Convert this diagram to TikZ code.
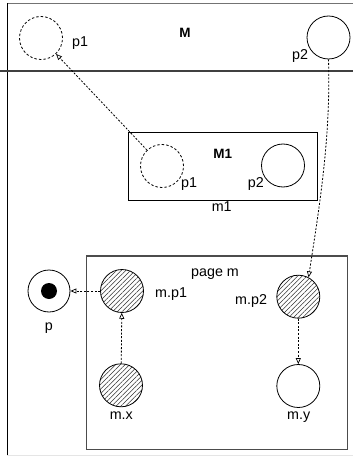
\documentclass[tikz,border=0pt]{standalone}
\usepackage{fontspec}
\setmainfont{Liberation Sans}
\usetikzlibrary{arrows.meta,patterns.meta}
\begin{document}
\begin{tikzpicture}[x=1pt,y=-1pt,
  every node/.style={font=\fontsize{14.3}{16}\selectfont},
  port/.style={circle,draw,line width=0.8pt,inner sep=0pt,minimum size=43pt},
  ghost/.style={port,dash pattern=on 2.5pt off 2pt},
  hatched/.style={port,pattern={Lines[angle=45,distance=3.3pt,line width=0.5pt]},pattern color=black!80},
  lbl/.style={inner sep=0pt,anchor=base},
  link/.style={line width=0.8pt,dash pattern=on 2pt off 1.6pt,
    -{Triangle[open,length=6pt,width=5pt,line width=0.7pt]}}]
\useasboundingbox (0,0) rectangle (353,457);
\fill[white] (0,0) rectangle (353,457);

% outer frame of M
\draw[black!55,line width=1pt] (7,3.3) -- (353,3.3);
\draw[black,line width=1pt] (7,3.3) -- (7,455);
\draw[black!10,line width=0.8pt] (7,455.6) -- (353,455.6);
\draw[black!75,line width=1.2pt] (0,71) -- (353,71);

% ports of M
\node[ghost] (tp1) at (41,38) {};
\node[port] (tp2) at (328.5,37.5) {};
\node[lbl,anchor=base west] (tp1l) at (72,46.7) {p1};
\node[lbl,anchor=base west] (tp2l) at (292,59.3) {p2};
\node[lbl,font=\fontsize{13.5}{15}\selectfont\bfseries] (ml) at (185,37.5) {M};

% instance m1 of M1
\draw[black,line width=0.9pt] (128.3,132.7) rectangle (317.7,200);
\node[lbl,font=\fontsize{13.5}{15}\selectfont\bfseries] (m1t) at (222.7,158.3) {M1};
\node[lbl] (m1l) at (221.7,211.7) {m1};
\node[ghost] (ip1) at (162,166) {};
\node[port] (ip2) at (283,165.5) {};
\node[lbl,anchor=base west] (ip1l) at (181,187.3) {p1};
\node[lbl,anchor=base west] (ip2l) at (247.7,187.3) {p2};

% page m
\draw[black!70,line width=1.1pt] (86.7,256) rectangle (347.7,449.3);
\node[lbl] (pgl) at (215,276) {page m};
\node[hatched] (mp1) at (122,291) {};
\node[hatched] (mp2) at (298.3,296.7) {};
\node[hatched] (mx) at (121,385.3) {};
\node[port] (my) at (298.3,386) {};
\node[lbl,anchor=base west] (mp1l) at (155,297.3) {m.p1};
\node[lbl,anchor=base west] (mp2l) at (235,304) {m.p2};
\node[lbl] (mxl) at (121.3,419.5) {m.x};
\node[lbl] (myl) at (298.7,419.5) {m.y};

% place p
\node[port,minimum size=42pt] (p) at (49,291) {};
\fill (p.center) circle (8);
\node[lbl] (pl) at (48.8,330) {p};

% connections
\draw[link] (ip1) -- (tp1);
\draw[link] (tp2.south) .. controls (331,140) and (318,215) .. (mp2.62);
\draw[link] (mp1) -- (p);
\draw[link] (mx) -- (mp1);
\draw[link] (mp2) -- (my);
\end{tikzpicture}
\end{document}
